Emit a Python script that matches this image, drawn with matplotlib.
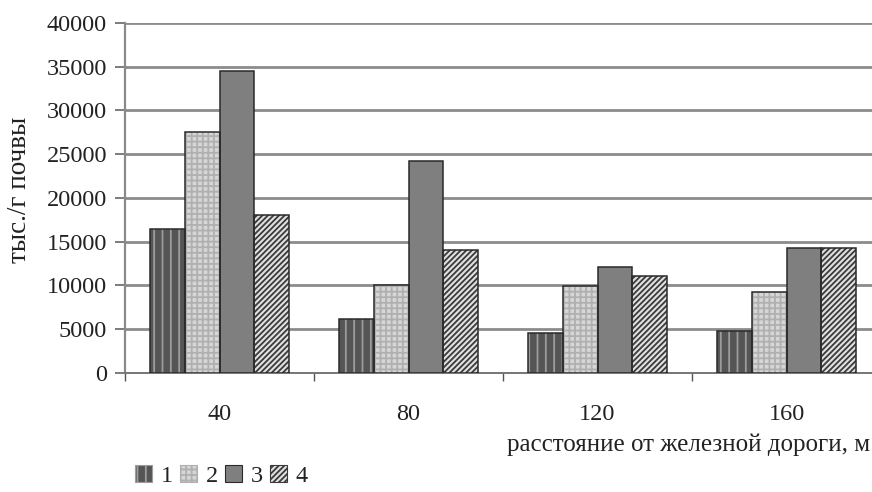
import matplotlib
matplotlib.use("Agg")
import matplotlib.pyplot as plt
from matplotlib.patches import Patch
import numpy as np

categories = ["40", "80", "120", "160"]
series_labels = ["1", "2", "3", "4"]
s1 = [16500, 6200, 4600, 4800]
s2 = [27500, 10100, 9900, 9300]
s3 = [34500, 24200, 12100, 14300]
s4 = [18100, 14100, 11100, 14300]
yticks = [0, 5000, 10000, 15000, 20000, 25000, 30000, 35000, 40000]
ylabel = "тыс./г почвы"
xlabel = "расстояние от железной дороги, м"

series = [s1, s2, s3, s4]
styles = [
    dict(face="#555555", hcol="#9c9c9c", hatch="||"),
    dict(face="#d6d6d6", hcol="#b0b0b0", hatch="+++"),
    dict(face="#7f7f7f", hcol="#7f7f7f", hatch=None),
    dict(face="#e0e0e0", hcol="#3a3a3a", hatch="//////"),
]

plt.rcParams["font.family"] = ["Liberation Serif", "DejaVu Serif"]
plt.rcParams["hatch.linewidth"] = 1.3
txt = "#222222"
fs = 17.5

fig = plt.figure(figsize=(8.72, 4.92), dpi=100)
ax = fig.add_axes([125 / 872, 119 / 492, 756 / 872, 350.2 / 492])

x = np.arange(len(categories))
w = 0.185
for i, (vals, st) in enumerate(zip(series, styles)):
    pos = x + (i - 1.5) * w
    ax.bar(pos, vals, w, color=st["face"], edgecolor=st["hcol"],
           hatch=st["hatch"], linewidth=0, zorder=3)
    ax.bar(pos, vals, w, fill=False, edgecolor="#2a2a2a", linewidth=1.1, zorder=4)

ax.set_xlim(-0.5, 3.5)
ax.set_ylim(0, 40000)
ax.set_yticks(yticks)
ax.set_yticklabels([str(v) for v in yticks])
ax.yaxis.grid(True, color="#8c8c8c", linewidth=2.0, zorder=0)
ax.set_axisbelow(True)

ax.set_xticks([-0.5, 0.5, 1.5, 2.5])
ax.set_xticklabels([])
ax.set_xticks(x, minor=True)
ax.set_xticklabels(categories, minor=True)
ax.tick_params(axis="x", which="major", length=6, width=1.0, color="#555555", direction="out")
ax.tick_params(axis="x", which="minor", length=0, pad=22, labelsize=fs, labelcolor=txt)
ax.tick_params(axis="y", length=7, width=1.2, color="#666666", pad=6, labelsize=fs, labelcolor=txt)

for s in ["top", "right"]:
    ax.spines[s].set_visible(False)
ax.spines["left"].set_color("#8a8a8a")
ax.spines["left"].set_linewidth(1.6)
ax.spines["bottom"].set_color("#777777")
ax.spines["bottom"].set_linewidth(1.4)

ax.set_ylabel(ylabel, fontsize=19.5, color=txt)
ax.yaxis.set_label_coords(-0.123, 0.523)

fig.text(0.998, 1 - 445 / 492, xlabel, ha="right", va="center", fontsize=18, color=txt)

handles = [Patch(facecolor=st["face"], edgecolor=st["hcol"] if st["hatch"] else "#2a2a2a",
                 hatch=st["hatch"], linewidth=0.8) for st in styles]
fig.legend(handles, series_labels, loc="center left",
           bbox_to_anchor=(123 / 872, 1 - 476 / 492), ncol=4, frameon=False,
           fontsize=fs, handlelength=0.7, handleheight=0.7,
           handletextpad=0.35, columnspacing=0.3, borderpad=0, labelcolor=txt)

fig.savefig("out.png", dpi=100)
